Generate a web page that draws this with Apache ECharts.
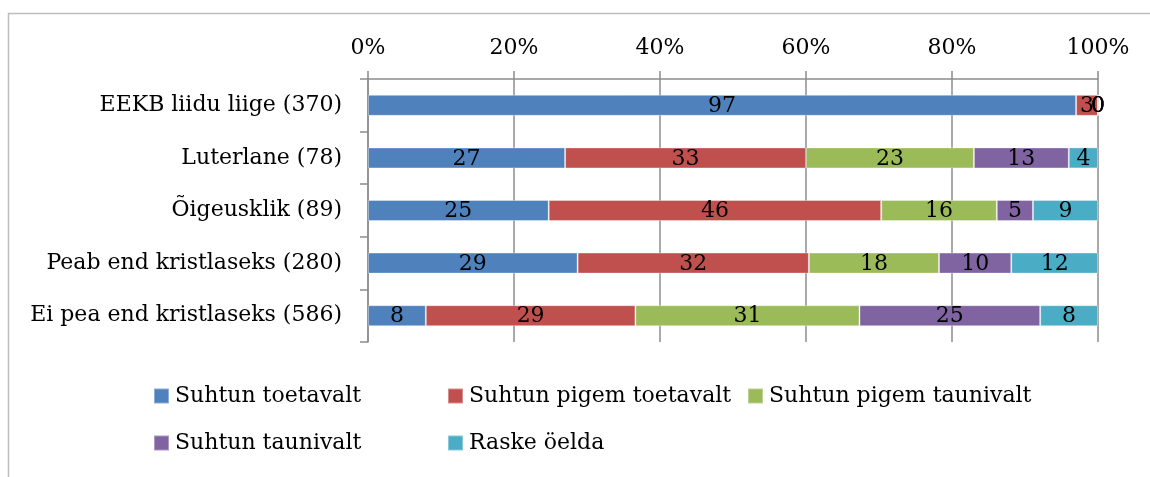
<!DOCTYPE html>
<html>
<head>
<meta charset="utf-8">
<script src="https://cdn.jsdelivr.net/npm/echarts@6/dist/echarts.min.js"></script>
<style>
    html, body {margin: 0; padding: 0; background: #fff;}
    #main {width: 1150px; height: 477px;}
</style>
</head>
<body>
<div id="main"></div>
<script>
let categories = ['EEKB liidu liige (370)', 'Luterlane (78)', 'Õigeusklik (89)', 'Peab end kristlaseks (280)', 'Ei pea end kristlaseks (586)'];
let seriesNames = ['Suhtun toetavalt', 'Suhtun pigem toetavalt', 'Suhtun pigem taunivalt', 'Suhtun taunivalt', 'Raske öelda'];
let toetavalt = [97, 27, 25, 29, 8];
let pigemToetavalt = [3, 33, 46, 32, 29];
let pigemTaunivalt = [0, 23, 16, 18, 31];
let taunivalt = [0, 13, 5, 10, 25];
let raskeOelda = [0, 4, 9, 12, 8];
let colors = ['#4f81bd', '#c0504d', '#9bbb59', '#8064a2', '#4bacc6'];
let xTicks = [0, 20, 40, 60, 80, 100];

let font = 'DejaVu Serif';
let allSeries = [toetavalt, pigemToetavalt, pigemTaunivalt, taunivalt, raskeOelda];

// 100% virna jaoks normeerime iga rea summale
let rowSums = categories.map((c, i) => allSeries.reduce((s, arr) => s + arr[i], 0));

let myChart = echarts.init(document.getElementById('main'));

let series = allSeries.map((arr, k) => ({
    name: seriesNames[k],
    type: 'bar',
    stack: 'total',
    barWidth: 21,
    silent: true,
    itemStyle: {color: colors[k], borderColor: 'rgba(255,255,255,0.35)', borderWidth: 1},
    label: {
        show: true,
        position: 'inside',
        offset: [0, 1],
        color: '#000',
        fontFamily: font,
        fontSize: 22,
        formatter: (p) => String(arr[p.dataIndex])
    },
    data: arr.map((v, i) => v / rowSums[i] * 100)
}));

// legendid: Exceli moodi kahes reas
let legendPos = [[153, 385], [447, 385], [747, 385], [153, 432], [447, 432]];
let legends = seriesNames.map((name, k) => ({
    data: [name],
    left: legendPos[k][0],
    top: legendPos[k][1],
    padding: 0,
    itemWidth: 15,
    itemHeight: 15,
    itemGap: 0,
    selectedMode: false,
    icon: 'rect',
    textStyle: {fontFamily: font, fontSize: 22, color: '#000', lineHeight: 22, padding: [0, 0, 0, 1]}
}));

myChart.setOption({
    animation: false,
    color: colors,
    graphic: [{
        type: 'polyline',
        shape: {points: [[8.5, 477], [8.5, 13.5], [1150, 13.5]]},
        style: {fill: null, stroke: '#bdbdbd', lineWidth: 1.5},
        silent: true
    }],
    grid: {left: 368, right: 52, top: 79, bottom: 135},
    legend: legends,
    xAxis: {
        type: 'value',
        position: 'top',
        min: 0,
        max: 100,
        interval: 20,
        axisLine: {show: true, lineStyle: {color: '#8c8c8c', width: 1.5}},
        axisTick: {show: true, length: 8, lineStyle: {color: '#8c8c8c', width: 1.5}},
        splitLine: {show: true, lineStyle: {color: '#8c8c8c', width: 1.5}},
        axisLabel: {
            margin: 20,
            color: '#000',
            fontFamily: font,
            fontSize: 22,
            formatter: (v) => xTicks.indexOf(v) >= 0 ? v + '%' : ''
        }
    },
    yAxis: {
        type: 'category',
        inverse: true,
        data: categories,
        axisLine: {show: true, lineStyle: {color: '#8c8c8c', width: 1.5}},
        axisTick: {show: true, length: 8, lineStyle: {color: '#8c8c8c', width: 1.5}},
        axisLabel: {margin: 26, color: '#000', fontFamily: font, fontSize: 22}
    },
    series: series
});
</script>
</body>
</html>
